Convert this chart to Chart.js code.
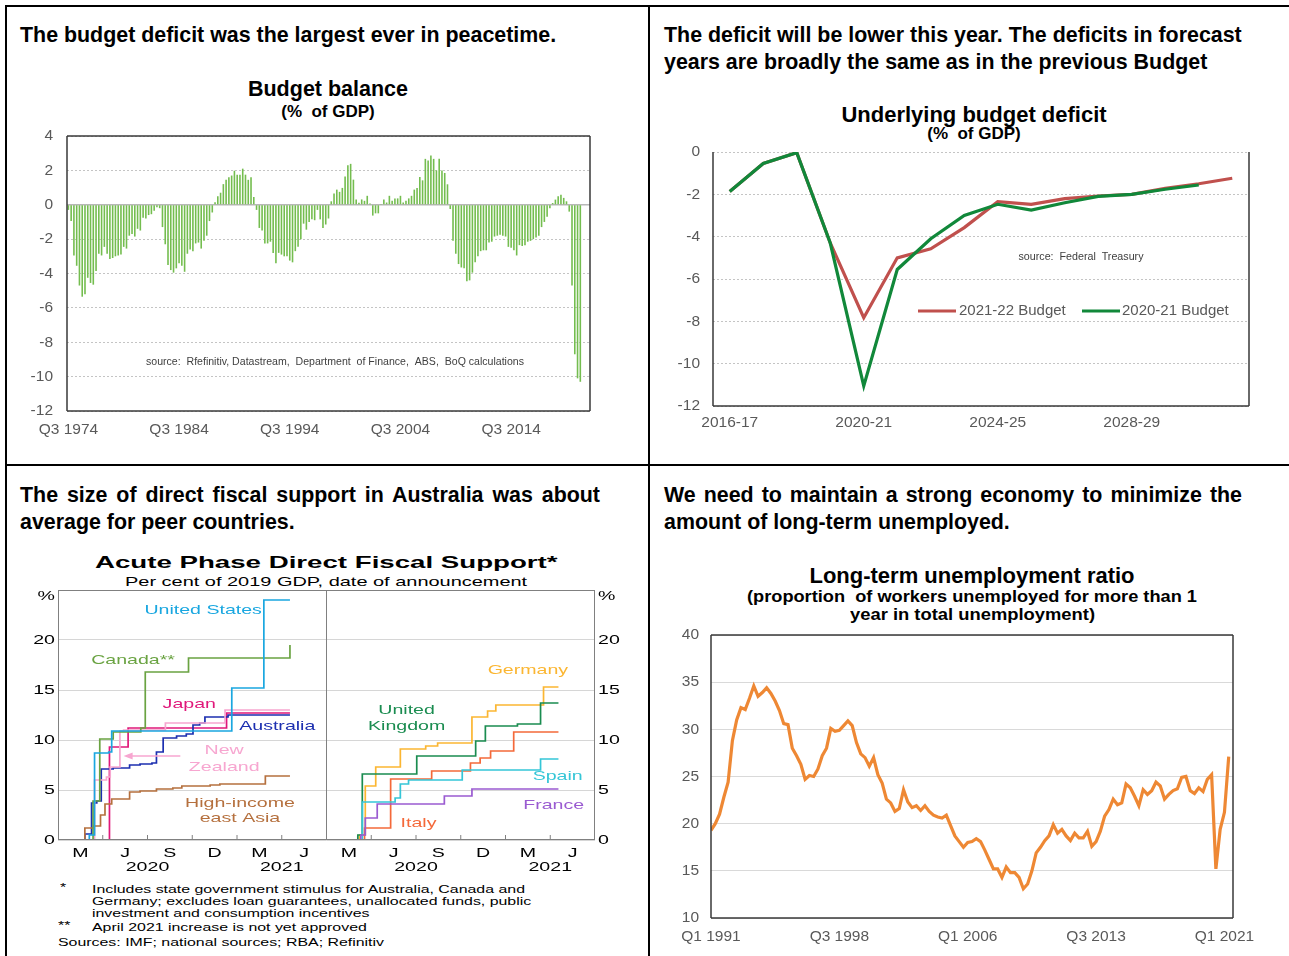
<!DOCTYPE html>
<html>
<head>
<meta charset="utf-8">
<script src="https://cdn.jsdelivr.net/npm/chart.js@4.4.1/dist/chart.umd.min.js"></script>
<style>
  body { margin:0; background:#fff; width:1289px; height:956px; overflow:hidden; position:relative; font-family:"Liberation Sans", Arial, sans-serif; }
  .abs { position:absolute; white-space:nowrap; line-height:1; color:#000; }
  .hd { font-weight:bold; font-size:21.4px; }
  .just { white-space:normal; text-align:justify; text-align-last:justify; }
  .ctr { text-align:center; }
  .b { font-weight:bold; }
  .rule { position:absolute; background:#000; }
  .fn { font-size:10.5px; transform-origin:0 50%; }
  canvas { position:absolute; }
</style>
</head>
<body>
<div class="rule" style="left:5px;top:5px;width:1284px;height:2px"></div>
<div class="rule" style="left:5px;top:5px;width:2px;height:951px"></div>
<div class="rule" style="left:648px;top:5px;width:2px;height:951px"></div>
<div class="rule" style="left:5px;top:464px;width:1284px;height:2px"></div>

<div class="abs hd" style="left:20px;top:25px">The budget deficit was the largest ever in peacetime.</div>
<div class="abs hd" style="left:664px;top:25px">The deficit will be lower this year. The deficits in forecast</div>
<div class="abs hd" style="left:664px;top:52px">years are broadly the same as in the previous Budget</div>
<div class="abs hd just" style="left:20px;top:485px;width:580px">The size of direct fiscal support in Australia was about</div>
<div class="abs hd" style="left:20px;top:512px">average for peer countries.</div>
<div class="abs hd just" style="left:664px;top:485px;width:578px">We need to maintain a strong economy to minimize the</div>
<div class="abs hd" style="left:664px;top:512px">amount of long-term unemployed.</div>

<div class="abs b ctr" style="left:128px;top:79px;width:400px;font-size:21.5px">Budget balance</div>
<div class="abs b ctr" style="left:128px;top:103px;width:400px;font-size:17px">(%&nbsp; of GDP)</div>
<div class="abs b ctr" style="left:774px;top:104px;width:400px;font-size:22px">Underlying budget deficit</div>
<div class="abs b ctr" style="left:774px;top:125px;width:400px;font-size:17px">(%&nbsp; of GDP)</div>
<div class="abs b ctr" style="left:672px;top:565px;width:600px;font-size:22px">Long-term unemployment ratio</div>
<div id="s4a" class="abs b" style="top:588px;font-size:16.5px">(proportion&nbsp; of workers unemployed for more than 1</div>
<div id="s4b" class="abs b" style="top:606px;font-size:16.5px">year in total unemployment)</div>

<div id="t3" class="abs b" style="top:554px;font-size:17px">Acute Phase Direct Fiscal Support*</div>
<div id="s3" class="abs" style="top:575px;font-size:13px">Per cent of 2019 GDP, date of announcement</div>

<div class="abs fn" style="left:60px;top:882px">*</div>
<div id="fn1" class="abs fn" style="left:92px;top:884px">Includes state government stimulus for Australia, Canada and</div>
<div class="abs fn" style="left:92px;top:896px">Germany; excludes loan guarantees, unallocated funds, public</div>
<div class="abs fn" style="left:92px;top:908px">investment and consumption incentives</div>
<div class="abs fn" style="left:58px;top:920px">**</div>
<div class="abs fn" style="left:92px;top:922px">April 2021 increase is not yet approved</div>
<div class="abs fn" style="left:58px;top:937px">Sources: IMF; national sources; RBA; Refinitiv</div>

<canvas id="c1" width="600" height="330" style="left:0;top:120px"></canvas>
<canvas id="c2" width="620" height="300" style="left:640px;top:140px"></canvas>
<canvas id="c3" width="650" height="290" style="left:0;top:585px"></canvas>
<canvas id="c4" width="620" height="334" style="left:640px;top:622px"></canvas>

<script>
// ---------- data: budget balance, quarterly from Q3 1974 ----------
const budgetBalance = [
  -0.3, -0.95, -2.95, -3.55, -4.7, -5.35, -5.2, -4.25, -4.55, -4.65,
  -3.85, -2.85, -2.95, -2.45, -2.85, -3.15, -3.1, -3.0, -2.95, -2.9,
  -2.45, -2.55, -1.8, -1.7, -1.85, -1.4, -1.5, -0.75, -0.8, -0.6,
  -0.55, -0.35, -0.15, -0.2, -1.3, -2.3, -3.5, -3.8, -3.95, -3.7,
  -3.4, -3.55, -3.9, -2.85, -2.6, -2.7, -2.25, -2.2,
  -2.55, -2.1, -1.8, -0.95, -0.45, 0.15, 0.5, 0.7, 1.2, 1.45,
  1.6, 1.7, 1.98, 1.75, 1.75, 2.1, 1.75, 1.45, 1.6, 0.45,
  -0.3, -1.35, -1.5, -2.25, -2.25, -2.15, -2.8, -3.4, -2.8, -2.9,
  -3.0, -3.0, -3.25, -3.35, -2.7, -2.45, -2.0, -1.1, -1.45, -1.0,
  -0.85, -0.9, -0.3, -0.85, -1.35, -1.15, -0.8, 0.2,
  0.65, 0.88, 0.75, 0.98, 1.65, 2.3, 2.38, 1.46, 0.31, 0.12,
  0.31, 0.23, 0.52, 0.08, -0.63, -0.5, -0.5, 0.05, 0.31, 0.13,
  0.52, 0.23, 0.37, 0.37, 0.52, 0.13, 0.23, 0.37, 0.52, 0.88,
  0.98, 1.62, 1.42, 2.67, 2.58, 2.87, 2.67, 2.0, 2.67, 2.0,
  1.85, 1.19,
  -0.25, -2.1, -2.85, -3.45, -3.65, -3.7, -4.45, -4.4, -3.95, -3.35,
  -3.0, -2.7, -2.65, -2.65, -2.2, -2.15, -1.85, -1.8, -1.75, -1.8,
  -1.85, -2.45, -2.5, -2.65, -2.95, -2.35, -2.4, -2.35, -2.15, -2.1,
  -2.0, -1.9, -1.8, -1.3, -1.0, -0.7, -0.2, 0.1, 0.3, 0.5,
  0.58, 0.4, 0.2, -0.4, -4.7, -8.7, -10.1, -10.3
];
const balanceTickLabels = ['Q3 1974', 'Q3 1984', 'Q3 1994', 'Q3 2004', 'Q3 2014'];
const balanceQuarterCount = 189;

// ---------- data: underlying budget deficit ----------
const fiscalYears = ['2016-17', '2017-18', '2018-19', '2019-20', '2020-21', '2021-22', '2022-23', '2023-24',
  '2024-25', '2025-26', '2026-27', '2027-28', '2028-29', '2029-30', '2030-31', '2031-32'];
const deficitTickLabels = ['2016-17', '2020-21', '2024-25', '2028-29'];
const budget2122 = [-1.87, -0.54, -0.03, -4.3, -7.83, -5.0, -4.57, -3.57, -2.35, -2.47, -2.2, -2.08, -2.0, -1.72, -1.5, -1.24];
const budget2021 = [-1.87, -0.54, -0.03, -4.3, -11.05, -5.55, -4.1, -3.0, -2.47, -2.74, -2.4, -2.1, -2.0, -1.76, -1.56, null];

// ---------- data: fiscal support, [months since Jan 2020, % of GDP] ----------
const usSteps = [[1.5, 0], [2.1, 0.5], [2.45, 8.7], [3.4, 8.8], [3.6, 10.9], [11.65, 15.2], [13.8, 24.0], [15.55, 24.0]];
const canadaSteps = [[1.6, 0], [2.35, 3.9], [2.8, 10.1], [3.7, 10.8], [5.55, 11.2], [5.85, 16.8], [8.75, 18.2], [15.2, 18.2], [15.55, 19.5]];
const japanSteps = [[2.0, 0], [3.45, 9.3], [4.7, 11.2], [11.3, 12.7], [15.55, 12.7]];
const australiaSteps = [[1.4, 0], [1.8, 0.6], [2.25, 3.7], [2.6, 3.9], [2.9, 7.1], [3.7, 7.2], [4.8, 7.5], [5.5, 7.6], [6.3, 7.7],
  [6.6, 8.8], [7.05, 10.2], [7.95, 10.4], [8.6, 10.6], [9.05, 11.5], [9.5, 11.7], [9.85, 12.3], [11.4, 12.5], [15.55, 12.5]];
const nzSteps = [[1.8, 0], [2.45, 6.0], [3.25, 6.3], [3.5, 7.3], [4.15, 10.9], [4.4, 11.0], [7.2, 11.7], [11.2, 13.0], [15.55, 13.0]];
const eastAsiaSteps = [[1.35, 0], [1.8, 1.2], [2.4, 1.4], [2.85, 2.5], [3.15, 3.6], [3.6, 4.1], [4.8, 4.8], [5.5, 4.9], [6.6, 5.1],
  [7.7, 5.2], [8.3, 5.4], [10.2, 5.5], [10.85, 5.6], [13.9, 6.4], [15.55, 6.4]];
const germanySteps = [[1.2, 0], [2.2, 0.5], [2.6, 5.4], [3.3, 7.3], [4.95, 9.1], [6.65, 9.4], [7.45, 9.7], [9.75, 12.3], [10.8, 12.9],
  [11.35, 13.5], [14.55, 15.3], [15.55, 15.3]];
const ukSteps = [[1.2, 0], [2.1, 0.5], [2.4, 6.6], [6.05, 8.4], [10.0, 9.9], [10.65, 11.4], [12.8, 11.6], [14.35, 13.7], [15.55, 13.7]];
const italySteps = [[1.2, 0], [2.55, 1.2], [4.3, 6.1], [7.05, 6.9], [9.65, 7.7], [10.3, 8.2], [11.0, 8.9], [12.55, 10.8], [15.55, 10.8]];
const spainSteps = [[1.2, 0], [2.4, 3.8], [4.6, 4.2], [4.95, 5.6], [5.5, 6.0], [9.1, 7.0], [14.35, 8.1], [15.55, 8.1]];
const franceSteps = [[1.2, 0], [2.3, 0.5], [2.6, 2.2], [3.4, 3.6], [7.9, 4.4], [9.75, 5.1], [15.55, 5.1]];
const monthLabels = ['M', 'J', 'S', 'D', 'M', 'J'];
const yearLabels = ['2020', '2021'];
const supportTicks = [0, 5, 10, 15, 20];

// ---------- data: long-term unemployment ratio, quarterly from Q1 1991 ----------
const ltuRatio = [
  19.3, 20.0, 21.0, 22.8, 24.4, 28.8, 31.0, 32.3, 32.1, 33.3,
  34.6, 33.5, 33.9, 34.4, 33.8, 33.0, 32.0, 30.6, 30.5, 28.0,
  27.2, 26.3, 24.7, 25.1, 25.0, 25.8, 27.2, 28.0, 30.1, 29.8,
  29.9, 30.4, 30.9, 30.4, 28.6, 27.4, 27.0, 26.1, 27.0, 25.2,
  24.3, 22.6, 22.2, 21.3, 21.6, 23.6, 22.3, 21.7, 21.9, 21.4,
  21.9, 21.3, 20.9, 20.7, 20.6, 20.9, 19.8, 18.7, 18.1, 17.5,
  18.0, 18.1, 18.4, 18.1, 17.2, 16.2, 15.2, 15.2, 14.3, 15.4,
  14.8, 14.8, 14.3, 13.1, 13.6, 15.0, 16.9, 17.5, 18.2, 18.7,
  19.9, 19.0, 19.4, 18.7, 18.2, 19.0, 18.5, 18.5, 19.2, 17.6,
  18.1, 19.2, 20.8, 21.5, 22.6, 22.0, 22.2, 24.2, 23.8, 22.9,
  21.9, 23.6, 23.1, 23.5, 24.4, 24.0, 22.6, 23.1, 23.5, 23.7,
  24.9, 25.0, 23.5, 23.2, 23.8, 23.4, 24.7, 25.2, 15.2, 19.4,
  21.2, 27.1
];
const ltuTickLabels = ['Q1 1991', 'Q3 1998', 'Q1 2006', 'Q3 2013', 'Q1 2021'];
const ltuTickIndex = [0, 30, 60, 90, 120];

// ---------- common ----------
Chart.defaults.font.family = '"Liberation Sans", Arial, sans-serif';
Chart.defaults.animation = false;
Chart.defaults.responsive = false;
Chart.defaults.devicePixelRatio = 1;
Chart.defaults.plugins.legend.display = false;
Chart.defaults.plugins.tooltip.enabled = false;

const tickFont = { size: 15.5 };
const tickGrey = '#595959';

// fixed width for a y axis, and no extra room above/below for its labels
function fixYAxis(width) {
  return s => { s.width = width; s.paddingTop = 0; s.paddingBottom = 0; };
}
// fixed height for an x axis, and no extra room left/right for its labels
function fixXAxis(height) {
  return s => { s.height = height; s.paddingLeft = 0; s.paddingRight = 0; };
}

function framePlugin(color, width, sides) {
  return {
    id: 'frame',
    afterDatasetsDraw(chart) {
      const { ctx, chartArea: a } = chart;
      ctx.save();
      ctx.strokeStyle = color;
      ctx.lineWidth = width;
      ctx.beginPath();
      if (sides.includes('t')) { ctx.moveTo(a.left, a.top); ctx.lineTo(a.right, a.top); }
      if (sides.includes('r')) { ctx.moveTo(a.right, a.top); ctx.lineTo(a.right, a.bottom); }
      if (sides.includes('b')) { ctx.moveTo(a.left, a.bottom); ctx.lineTo(a.right, a.bottom); }
      if (sides.includes('l')) { ctx.moveTo(a.left, a.top); ctx.lineTo(a.left, a.bottom); }
      ctx.stroke();
      ctx.restore();
    }
  };
}

// draw small text squeezed/stretched to a given width
function fitCanvasText(ctx, text, cx, cy, width, font, color) {
  ctx.save();
  ctx.font = font;
  ctx.fillStyle = color;
  ctx.textBaseline = 'middle';
  const k = width / ctx.measureText(text).width;
  ctx.translate(cx - width / 2, cy);
  ctx.scale(k, 1);
  ctx.fillText(text, 0, 0);
  ctx.restore();
}

// ---------- chart 1: budget balance ----------
const quarterLabels = [];
for (let i = 0; i < balanceQuarterCount; i++) {
  quarterLabels.push('Q' + ((2 + i) % 4 + 1) + ' ' + (1974 + Math.floor((2 + i) / 4)));
}

new Chart(document.getElementById('c1'), {
  type: 'bar',
  data: {
    labels: quarterLabels,
    datasets: [{ data: budgetBalance, backgroundColor: '#74bd4f', barPercentage: 0.58, categoryPercentage: 1 }]
  },
  options: {
    layout: { padding: { top: 16, right: 10, left: 0, bottom: 0 } },
    scales: {
      x: {
        grid: { display: false, drawTicks: false },
        border: { display: false },
        ticks: {
          autoSkip: false, maxRotation: 0, padding: 9, color: tickGrey, font: tickFont,
          callback(v) { const l = this.getLabelForValue(v); return balanceTickLabels.includes(l) ? l : ''; }
        },
        afterFit: fixXAxis(39)
      },
      y: {
        min: -12, max: 4,
        ticks: { stepSize: 2, padding: 14, color: tickGrey, font: tickFont },
        grid: { color: '#c4c4c4', drawTicks: false },
        border: { display: false, dash: [2, 2] },
        afterFit: fixYAxis(67)
      }
    }
  },
  plugins: [framePlugin('#3a3a3a', 1.5, 'trbl'), {
    id: 'extras1',
    beforeDatasetsDraw(chart) {
      const { ctx, chartArea: a, scales } = chart;
      const y0 = scales.y.getPixelForValue(0);
      ctx.save();
      ctx.strokeStyle = '#b8b8b8';
      ctx.lineWidth = 1.5;
      ctx.beginPath(); ctx.moveTo(a.left, y0); ctx.lineTo(a.right, y0); ctx.stroke();
      ctx.restore();
      fitCanvasText(ctx, 'source:  Rfefinitiv, Datastream,  Department  of Finance,  ABS,  BoQ calculations',
        335, 242, 378, '10px "Liberation Sans"', '#404040');
    }
  }]
});

// ---------- chart 2: underlying budget deficit ----------
new Chart(document.getElementById('c2'), {
  type: 'line',
  data: {
    labels: fiscalYears,
    datasets: [
      { data: budget2122, borderColor: '#c0504d', borderWidth: 3.2, pointRadius: 0, order: 1 },
      { data: budget2021, borderColor: '#11883a', borderWidth: 3.2, pointRadius: 0, order: 0 }
    ]
  },
  options: {
    layout: { padding: { top: 12, right: 11, left: 0, bottom: 0 } },
    scales: {
      x: {
        offset: true,
        grid: { display: false, drawTicks: false },
        border: { display: false },
        ticks: {
          autoSkip: false, maxRotation: 0, padding: 7, color: tickGrey, font: tickFont,
          callback(v) { const l = this.getLabelForValue(v); return deficitTickLabels.includes(l) ? l : ''; }
        },
        afterFit: fixXAxis(34)
      },
      y: {
        min: -12, max: 0,
        ticks: { stepSize: 2, padding: 13, color: tickGrey, font: tickFont },
        grid: { color: '#c4c4c4', drawTicks: false },
        border: { display: false, dash: [2, 2] },
        afterFit: fixYAxis(73)
      }
    }
  },
  plugins: [framePlugin('#3a3a3a', 1.5, 'rbl'), {
    id: 'extras2',
    afterDatasetsDraw(chart) {
      const { ctx } = chart;
      fitCanvasText(ctx, 'source:  Federal  Treasury', 441, 117, 125, '10px "Liberation Sans"', '#404040');
      ctx.save();
      ctx.lineWidth = 3.2;
      ctx.strokeStyle = '#c0504d';
      ctx.beginPath(); ctx.moveTo(278, 171); ctx.lineTo(316, 171); ctx.stroke();
      ctx.strokeStyle = '#11883a';
      ctx.beginPath(); ctx.moveTo(442, 171); ctx.lineTo(480, 171); ctx.stroke();
      ctx.font = '15px "Liberation Sans"';
      ctx.fillStyle = tickGrey;
      ctx.textBaseline = 'middle';
      ctx.fillText('2021-22 Budget', 319, 171);
      ctx.fillText('2020-21 Budget', 482, 171);
      ctx.restore();
    }
  }]
});

// ---------- chart 3: acute phase direct fiscal support ----------
const SX = 1.45;
function stretchText(ctx, text, x, y, align, color, size) {
  ctx.save();
  ctx.font = size + 'px "Liberation Sans"';
  ctx.fillStyle = color;
  ctx.textBaseline = 'middle';
  const w = ctx.measureText(text).width * SX;
  let x0 = x;
  if (align === 'center') x0 = x - w / 2;
  else if (align === 'right') x0 = x - w;
  ctx.translate(x0, y);
  ctx.scale(SX, 1);
  ctx.fillText(text, 0, 0);
  ctx.restore();
}

const leftSeries = [
  [usSteps, '#1aa7e0'], [canadaSteps, '#6aa342'], [eastAsiaSteps, '#b5703e'],
  [nzSteps, '#f7a6d0'], [australiaSteps, '#1c2fb0'], [japanSteps, '#e0187a']
];
const rightSeries = [
  [franceSteps, '#9a5bd1'], [spainSteps, '#35c6d7'], [italySteps, '#f4693a'],
  [ukSteps, '#1a8c50'], [germanySteps, '#fbb632']
];
function stepDataset(steps, color, offset) {
  return {
    data: steps.map(p => ({ x: p[0] + offset, y: p[1] })),
    borderColor: color, borderWidth: 1.7, pointRadius: 0, stepped: true, fill: false
  };
}

const seriesLabels = [
  ['United States', 9.73, 23.0, '#1aa7e0'], ['Canada**', 5.03, 18.0, '#6aa342'],
  ['Japan', 8.8, 13.6, '#e0187a'], ['Australia', 14.7, 11.4, '#1c2fb0'],
  ['New', 11.14, 9.0, '#f7a6d0'], ['Zealand', 11.14, 7.3, '#f7a6d0'],
  ['High-income', 12.2, 3.7, '#b5703e'], ['east Asia', 12.2, 2.2, '#b5703e'],
  ['Germany', 31.5, 17.0, '#fbb632'], ['United', 23.37, 13.0, '#1a8c50'], ['Kingdom', 23.37, 11.4, '#1a8c50'],
  ['Spain', 33.5, 6.4, '#35c6d7'], ['France', 33.23, 3.5, '#9a5bd1'], ['Italy', 24.17, 1.7, '#f4693a']
];

new Chart(document.getElementById('c3'), {
  type: 'line',
  data: {
    datasets: leftSeries.map(s => stepDataset(s[0], s[1], 0))
      .concat(rightSeries.map(s => stepDataset(s[0], s[1], 18)))
  },
  options: {
    layout: { padding: { top: 5, right: 55, left: 58, bottom: 35 } },
    scales: {
      x: { type: 'linear', min: 0, max: 36, display: false },
      y: {
        min: 0, max: 25,
        ticks: { display: false, stepSize: 5 },
        grid: { color: '#d6d6d6', drawTicks: false },
        border: { display: false },
        afterFit: fixYAxis(0)
      }
    }
  },
  plugins: [{
    id: 'extras3',
    beforeDatasetsDraw(chart) {
      const { ctx, chartArea: a, scales } = chart;
      const xm = scales.x.getPixelForValue(18);
      ctx.save();
      ctx.strokeStyle = '#808080';
      ctx.lineWidth = 1;
      ctx.beginPath(); ctx.moveTo(xm, a.top); ctx.lineTo(xm, a.bottom); ctx.stroke();
      ctx.restore();
    },
    afterDatasetsDraw(chart) {
      const { ctx, chartArea: a, scales } = chart;
      const sx = v => scales.x.getPixelForValue(v);
      const sy = v => scales.y.getPixelForValue(v);
      ctx.save();
      ctx.strokeStyle = '#808080';
      ctx.lineWidth = 1;
      ctx.strokeRect(a.left + 0.5, a.top + 0.5, a.right - a.left - 1, a.bottom - a.top - 1);
      ctx.beginPath();
      [0, 18].forEach(off => {
        [3, 6, 9, 12, 15].forEach(m => { ctx.moveTo(sx(m + off), a.bottom); ctx.lineTo(sx(m + off), a.bottom - 5); });
      });
      ctx.stroke();
      // arrow from New Zealand label
      ctx.strokeStyle = '#f7a6d0';
      ctx.fillStyle = '#f7a6d0';
      ctx.lineWidth = 1.5;
      ctx.beginPath(); ctx.moveTo(sx(8.2), sy(8.4)); ctx.lineTo(sx(4.8), sy(8.4)); ctx.stroke();
      ctx.beginPath();
      ctx.moveTo(sx(4.4), sy(8.4)); ctx.lineTo(sx(4.4) + 9, sy(8.4) - 3.5); ctx.lineTo(sx(4.4) + 9, sy(8.4) + 3.5);
      ctx.closePath(); ctx.fill();
      ctx.restore();

      [0, 18].forEach(off => {
        monthLabels.forEach((l, i) => stretchText(ctx, l, sx(1.5 + 3 * i + off), a.bottom + 13, 'center', '#000', 13.5));
        yearLabels.forEach((l, i) => stretchText(ctx, l, sx((i === 0 ? 6 : 15) + off), a.bottom + 27, 'center', '#000', 13.5));
      });
      supportTicks.forEach(v => {
        stretchText(ctx, String(v), a.left - 3, sy(v), 'right', '#000', 13.5);
        stretchText(ctx, String(v), a.right + 3, sy(v), 'left', '#000', 13.5);
      });
      stretchText(ctx, '%', a.left - 3, sy(24.4), 'right', '#000', 13.5);
      stretchText(ctx, '%', a.right + 3, sy(24.4), 'left', '#000', 13.5);
      seriesLabels.forEach(l => stretchText(ctx, l[0], sx(l[1]), sy(l[2]), 'center', l[3], 13.5));
    }
  }]
});

// ---------- chart 4: long-term unemployment ratio ----------
new Chart(document.getElementById('c4'), {
  type: 'line',
  data: {
    datasets: [{
      data: ltuRatio.map((v, i) => ({ x: i, y: v })),
      borderColor: '#ee8834', borderWidth: 3.2, pointRadius: 0, tension: 0
    }]
  },
  options: {
    layout: { padding: { top: 13, right: 27, left: 0, bottom: 0 } },
    scales: {
      x: {
        type: 'linear', min: 0, max: 122,
        grid: { display: false, drawTicks: false },
        border: { display: false },
        afterBuildTicks(s) { s.ticks = ltuTickIndex.map(v => ({ value: v })); },
        ticks: {
          maxRotation: 0, autoSkip: false, padding: 9, color: tickGrey, font: tickFont,
          callback(v) { const i = ltuTickIndex.indexOf(v); return i >= 0 ? ltuTickLabels[i] : ''; }
        },
        afterFit: fixXAxis(38)
      },
      y: {
        min: 10, max: 40,
        ticks: { stepSize: 5, padding: 12, color: tickGrey, font: tickFont },
        grid: { color: '#d9d9d9', drawTicks: false },
        border: { display: false },
        afterFit: fixYAxis(71)
      }
    }
  },
  plugins: [framePlugin('#3a3a3a', 1.5, 'trbl')]
});

// ---------- stretch texts to the reference widths ----------
function fitWidth(el, width, centerX) {
  const k = width / el.offsetWidth;
  el.style.transformOrigin = '0 50%';
  el.style.transform = 'scaleX(' + k + ')';
  el.style.left = (centerX - width / 2) + 'px';
  return k;
}
fitWidth(document.getElementById('t3'), 462, 326);
fitWidth(document.getElementById('s3'), 402, 326);
fitWidth(document.getElementById('s4a'), 450, 972);
fitWidth(document.getElementById('s4b'), 245, 972);
const fn1 = document.getElementById('fn1');
const kf = 433 / fn1.offsetWidth;
document.querySelectorAll('.fn').forEach(el => { el.style.transform = 'scaleX(' + kf + ')'; });
</script>
</body>
</html>
